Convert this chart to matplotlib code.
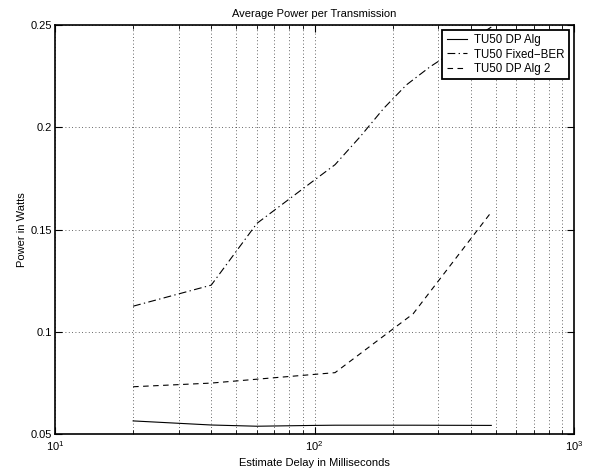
import matplotlib
matplotlib.use("Agg")
import matplotlib.pyplot as plt
from matplotlib.ticker import FixedLocator, FixedFormatter, LogLocator, NullFormatter

plt.rcParams['font.family'] = ['Liberation Sans', 'DejaVu Sans']
plt.rcParams['mathtext.fontset'] = 'custom'
plt.rcParams['mathtext.rm'] = 'Liberation Sans'

# Data
delay_dp = [20, 40, 60, 100, 120, 240, 480]
power_dp = [0.0564, 0.0544, 0.0538, 0.0542, 0.0543, 0.0543, 0.0542]

delay_fixed = [20, 40, 60, 100, 120, 150, 185, 226, 279, 480]
power_fixed = [0.1125, 0.1228, 0.1530, 0.1742, 0.1817, 0.1954, 0.2093, 0.2207, 0.2296, 0.2490]

delay_dp2 = [20, 40, 60, 120, 240, 480]
power_dp2 = [0.0731, 0.0749, 0.0768, 0.0800, 0.1088, 0.1585]

series_labels = ['TU50 DP Alg', 'TU50 Fixed\u2212BER', 'TU50 DP Alg 2']
yticks = [0.05, 0.1, 0.15, 0.2, 0.25]
ytick_labels = ['0.05', '0.1', '0.15', '0.2', '0.25']
xticks = [10, 100, 1000]
xtick_labels = ['$10^1$', '$10^2$', '$10^3$']

fig = plt.figure(figsize=(5.92, 4.71), dpi=100)
ax = fig.add_axes([55/592, 1-434/471, (574-55)/592, (434-25)/471])

lw = 0.8
ax.plot(delay_dp, power_dp, color='black', linestyle='-', linewidth=lw, label=series_labels[0])
ax.plot(delay_fixed, power_fixed, color='black', linestyle=(0, (7, 3, 1.2, 3)), linewidth=lw, label=series_labels[1])
ax.plot(delay_dp2, power_dp2, color='black', linestyle=(0, (5, 4)), linewidth=lw, label=series_labels[2])

ax.set_xscale('log')
ax.set_xlim(10, 1000)
ax.set_ylim(0.05, 0.25)

ax.xaxis.set_major_locator(FixedLocator(xticks))
ax.xaxis.set_major_formatter(FixedFormatter(xtick_labels))
ax.xaxis.set_minor_locator(LogLocator(base=10, subs=range(2, 10)))
ax.xaxis.set_minor_formatter(NullFormatter())
ax.yaxis.set_major_locator(FixedLocator(yticks))
ax.yaxis.set_major_formatter(FixedFormatter(ytick_labels))

ax.grid(True, which='major', axis='both', linestyle=(0, (1, 3)), color='black', linewidth=0.6, alpha=0.8)
ax.grid(True, which='minor', axis='x', linestyle=(0, (1, 3)), color='black', linewidth=0.6, alpha=0.8)

ax.tick_params(which='both', direction='in', top=True, right=True, labelsize=8, color='black')
ax.tick_params(which='major', length=5, width=0.8)
ax.tick_params(which='minor', length=3, width=0.6)
ax.tick_params(axis='y', which='major', pad=2)
for s in ax.spines.values():
    s.set_linewidth(1.2)
    s.set_color('black')

ax.set_title('Average Power per Transmission', fontsize=8, pad=6)
ax.set_xlabel('Estimate Delay in Milliseconds', fontsize=8, labelpad=4)
ax.set_ylabel('Power in Watts', fontsize=8, labelpad=3)

leg = ax.legend(loc='upper right', fontsize=8.3, frameon=True, fancybox=False,
                edgecolor='black', framealpha=1, borderpad=0.4, labelspacing=0.2,
                handlelength=1.8, handletextpad=0.6, borderaxespad=0.4)
leg.get_frame().set_linewidth(1.3)

fig.savefig('out.png', dpi=100)
